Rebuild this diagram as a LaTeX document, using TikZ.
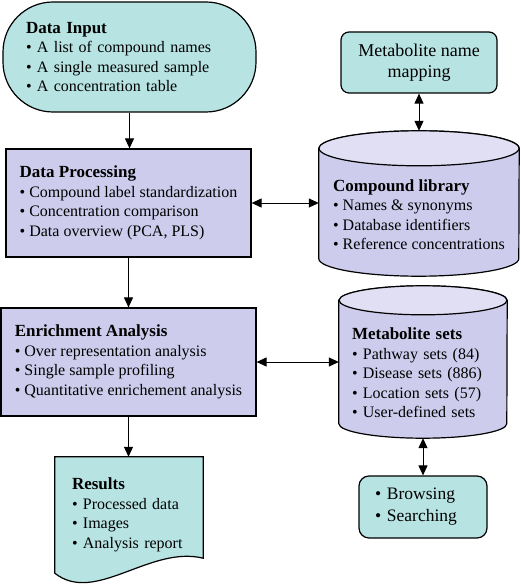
\documentclass[tikz,border=0pt]{standalone}
\usepackage{fontspec}
\setmainfont{Liberation Serif}
\usetikzlibrary{arrows.meta,backgrounds}
\definecolor{cyanfill}{RGB}{183,227,227}
\definecolor{lavfill}{RGB}{205,204,236}
\definecolor{lavtop}{RGB}{224,223,244}
\newcommand{\hd}[1]{{\fontsize{17}{20}\selectfont\textbf{#1}}}
\newcommand{\itm}{\textbullet\ }
\newcommand{\capgap}{\rule{0pt}{34pt}}
% cylinder round a node: name, half width, cap radius
\newcommand{\dbdraw}[3]{%
  \draw[line width=1.2pt,fill=lavfill] ([yshift=-#3]#1.north west) -- ([yshift=#3]#1.south west)
    arc[start angle=180,end angle=360,x radius=#2,y radius=#3] -- ([yshift=-#3]#1.north east)
    arc[start angle=0,end angle=180,x radius=#2,y radius=#3] -- cycle;
  \draw[line width=1.2pt,fill=lavtop] ([yshift=-#3]#1.north) ellipse[x radius=#2,y radius=#3];}

\begin{document}
\begin{tikzpicture}[x=1pt,y=-1pt,
  every node/.style={font=\fontsize{16}{19.5}\selectfont,inner sep=0pt,align=left},
  inbox/.style={draw,line width=1.2pt,fill=cyanfill},
  procbox/.style={draw,line width=1.2pt,fill=lavfill,minimum height=108pt},
  link/.style={-{Triangle[length=10pt,width=9pt]},line width=1pt},
  both/.style={{Triangle[length=10pt,width=9pt]}-{Triangle[length=10pt,width=9pt]},line width=1pt}]
\useasboundingbox (0,0) rectangle (520,585);
\node[inbox,rounded corners=50pt,minimum width=253pt,minimum height=110pt,text width=207pt] (input) at (129.5,57)
  {\hd{Data Input}\\ \itm A list of compound names\\ \itm A single measured sample\\ \itm A concentration table};
\node[procbox,minimum width=245pt] (proc) at (128.5,203)
  {\hd{Data Processing}\\ \itm Compound label standardization\\ \itm Concentration comparison\\ \itm Data overview (PCA, PLS)};
\node[procbox,minimum width=255pt] (enrich) at (128.5,362)
  {\hd{Enrichment Analysis}\\ \itm Over representation analysis\\ \itm Single sample profiling\\ \itm Quantitative enrichement analysis};
\node[minimum width=148pt,minimum height=116pt,text width=114pt] (res) at (129,515)
  {\hd{Results}\\ \itm Processed data\\ \itm Images\\ \itm Analysis report};
\node[inbox,rounded corners=8pt,minimum width=156pt,minimum height=61pt,align=center,font=\fontsize{18}{21}\selectfont] (map) at (419,62.5)
  {Metabolite name\\ mapping};
\node[minimum width=200pt,minimum height=145pt] (lib) at (419,203.5)
  {\hd{\capgap Compound library}\\ \itm Names \& synonyms\\ \itm Database identifiers\\ \itm Reference concentrations};
\node[minimum width=168pt,minimum height=152pt,text width=142pt] (sets) at (423,362)
  {\hd{\capgap Metabolite sets}\\ \itm Pathway sets (84)\\ \itm Disease sets (886)\\ \itm Location sets (57)\\ \itm User-defined sets};
\node[inbox,rounded corners=10pt,minimum width=128pt,minimum height=62pt,text width=96pt,font=\fontsize{17.5}{22}\selectfont] (browse) at (423,507)
  {\itm Browsing\\ \itm Searching};
\begin{scope}[on background layer]
  \draw[line width=1.2pt,fill=cyanfill] (res.north west) -- (res.north east) -- ([yshift=15pt]res.south east)
    .. controls (150,545) and (95,605) .. (res.south west) -- cycle;
  \dbdraw{lib}{100pt}{17.5pt}
  \dbdraw{sets}{84pt}{14.5pt}
\end{scope}
\draw[link] (input.south) -- (input.south |- proc.north);
\draw[link] (proc.south) -- (enrich.north);
\draw[link] (enrich.south) -- (enrich.south |- res.north);
\draw[both] (map.south) -- (lib.north);
\draw[both] (proc.east) -- (proc.east -| lib.west);
\draw[both] (enrich.east) -- (enrich.east -| sets.west);
\draw[both] (sets.south) -- (browse.north);
\end{tikzpicture}
\end{document}
